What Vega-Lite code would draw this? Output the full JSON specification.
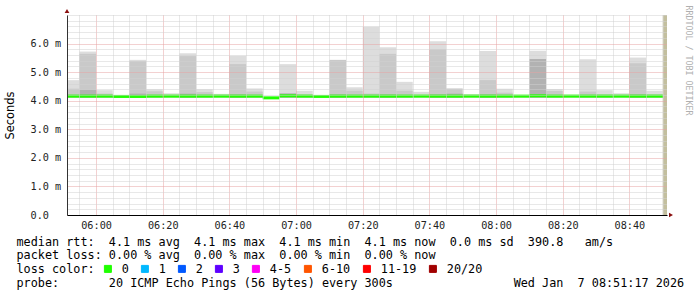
{
  "$schema": "https://vega.github.io/schema/vega-lite/v6.json",
  "width": 600,
  "height": 200,
  "autosize": {"type": "none"},
  "padding": {"left": 67, "top": 15, "right": 30, "bottom": 82},
  "background": "#ffffff",
  "config": {"view": {"stroke": null}, "font": "DejaVu Sans Mono"},
  "datasets": {
    "smoke": [
      {"t0": "2026-01-07T05:50:00Z", "t1": "2026-01-07T05:55:00Z", "band": "light", "lo": 4.1, "hi": 4.72},
      {"t0": "2026-01-07T05:55:00Z", "t1": "2026-01-07T06:00:00Z", "band": "light", "lo": 4.1, "hi": 5.72},
      {"t0": "2026-01-07T06:00:00Z", "t1": "2026-01-07T06:05:00Z", "band": "light", "lo": 4.1, "hi": 4.37},
      {"t0": "2026-01-07T06:10:00Z", "t1": "2026-01-07T06:15:00Z", "band": "light", "lo": 4.1, "hi": 5.43},
      {"t0": "2026-01-07T06:15:00Z", "t1": "2026-01-07T06:20:00Z", "band": "light", "lo": 4.1, "hi": 4.40},
      {"t0": "2026-01-07T06:20:00Z", "t1": "2026-01-07T06:25:00Z", "band": "light", "lo": 4.1, "hi": 4.26},
      {"t0": "2026-01-07T06:25:00Z", "t1": "2026-01-07T06:30:00Z", "band": "light", "lo": 4.1, "hi": 5.66},
      {"t0": "2026-01-07T06:30:00Z", "t1": "2026-01-07T06:35:00Z", "band": "light", "lo": 4.1, "hi": 4.40},
      {"t0": "2026-01-07T06:35:00Z", "t1": "2026-01-07T06:40:00Z", "band": "light", "lo": 4.1, "hi": 4.24},
      {"t0": "2026-01-07T06:40:00Z", "t1": "2026-01-07T06:45:00Z", "band": "light", "lo": 4.1, "hi": 5.57},
      {"t0": "2026-01-07T06:45:00Z", "t1": "2026-01-07T06:50:00Z", "band": "light", "lo": 4.1, "hi": 4.43},
      {"t0": "2026-01-07T06:55:00Z", "t1": "2026-01-07T07:00:00Z", "band": "light", "lo": 4.1, "hi": 5.28},
      {"t0": "2026-01-07T07:00:00Z", "t1": "2026-01-07T07:05:00Z", "band": "light", "lo": 4.1, "hi": 4.35},
      {"t0": "2026-01-07T07:15:00Z", "t1": "2026-01-07T07:20:00Z", "band": "light", "lo": 4.1, "hi": 4.47},
      {"t0": "2026-01-07T07:20:00Z", "t1": "2026-01-07T07:25:00Z", "band": "light", "lo": 4.1, "hi": 6.59},
      {"t0": "2026-01-07T07:25:00Z", "t1": "2026-01-07T07:30:00Z", "band": "light", "lo": 4.1, "hi": 5.87},
      {"t0": "2026-01-07T07:30:00Z", "t1": "2026-01-07T07:35:00Z", "band": "light", "lo": 4.1, "hi": 4.66},
      {"t0": "2026-01-07T07:35:00Z", "t1": "2026-01-07T07:40:00Z", "band": "light", "lo": 4.1, "hi": 4.31},
      {"t0": "2026-01-07T07:40:00Z", "t1": "2026-01-07T07:45:00Z", "band": "light", "lo": 4.1, "hi": 6.08},
      {"t0": "2026-01-07T07:50:00Z", "t1": "2026-01-07T07:55:00Z", "band": "light", "lo": 4.1, "hi": 4.23},
      {"t0": "2026-01-07T07:55:00Z", "t1": "2026-01-07T08:00:00Z", "band": "light", "lo": 4.1, "hi": 5.74},
      {"t0": "2026-01-07T08:00:00Z", "t1": "2026-01-07T08:05:00Z", "band": "light", "lo": 4.1, "hi": 4.42},
      {"t0": "2026-01-07T08:05:00Z", "t1": "2026-01-07T08:10:00Z", "band": "light", "lo": 4.1, "hi": 4.18},
      {"t0": "2026-01-07T08:10:00Z", "t1": "2026-01-07T08:15:00Z", "band": "light", "lo": 4.1, "hi": 5.75},
      {"t0": "2026-01-07T08:15:00Z", "t1": "2026-01-07T08:20:00Z", "band": "light", "lo": 4.1, "hi": 4.41},
      {"t0": "2026-01-07T08:20:00Z", "t1": "2026-01-07T08:25:00Z", "band": "light", "lo": 4.1, "hi": 4.21},
      {"t0": "2026-01-07T08:25:00Z", "t1": "2026-01-07T08:30:00Z", "band": "light", "lo": 4.1, "hi": 5.45},
      {"t0": "2026-01-07T08:30:00Z", "t1": "2026-01-07T08:35:00Z", "band": "light", "lo": 4.1, "hi": 4.37},
      {"t0": "2026-01-07T08:35:00Z", "t1": "2026-01-07T08:40:00Z", "band": "light", "lo": 4.1, "hi": 4.26},
      {"t0": "2026-01-07T08:40:00Z", "t1": "2026-01-07T08:45:00Z", "band": "light", "lo": 4.1, "hi": 5.51},
      {"t0": "2026-01-07T08:45:00Z", "t1": "2026-01-07T08:50:00Z", "band": "light", "lo": 4.1, "hi": 4.35},
      {"t0": "2026-01-07T05:50:00Z", "t1": "2026-01-07T05:55:00Z", "band": "medium", "lo": 4.1, "hi": 4.42},
      {"t0": "2026-01-07T05:55:00Z", "t1": "2026-01-07T06:00:00Z", "band": "medium", "lo": 4.1, "hi": 5.64},
      {"t0": "2026-01-07T06:00:00Z", "t1": "2026-01-07T06:05:00Z", "band": "medium", "lo": 4.1, "hi": 4.25},
      {"t0": "2026-01-07T06:05:00Z", "t1": "2026-01-07T06:10:00Z", "band": "medium", "lo": 4.1, "hi": 4.18},
      {"t0": "2026-01-07T06:10:00Z", "t1": "2026-01-07T06:15:00Z", "band": "medium", "lo": 4.1, "hi": 5.38},
      {"t0": "2026-01-07T06:15:00Z", "t1": "2026-01-07T06:20:00Z", "band": "medium", "lo": 4.1, "hi": 4.33},
      {"t0": "2026-01-07T06:25:00Z", "t1": "2026-01-07T06:30:00Z", "band": "medium", "lo": 4.1, "hi": 5.56},
      {"t0": "2026-01-07T06:30:00Z", "t1": "2026-01-07T06:35:00Z", "band": "medium", "lo": 4.1, "hi": 4.30},
      {"t0": "2026-01-07T06:40:00Z", "t1": "2026-01-07T06:45:00Z", "band": "medium", "lo": 4.1, "hi": 5.28},
      {"t0": "2026-01-07T06:45:00Z", "t1": "2026-01-07T06:50:00Z", "band": "medium", "lo": 4.1, "hi": 4.32},
      {"t0": "2026-01-07T07:00:00Z", "t1": "2026-01-07T07:05:00Z", "band": "medium", "lo": 4.1, "hi": 4.22},
      {"t0": "2026-01-07T07:10:00Z", "t1": "2026-01-07T07:15:00Z", "band": "medium", "lo": 4.1, "hi": 5.43},
      {"t0": "2026-01-07T07:15:00Z", "t1": "2026-01-07T07:20:00Z", "band": "medium", "lo": 4.1, "hi": 4.35},
      {"t0": "2026-01-07T07:20:00Z", "t1": "2026-01-07T07:25:00Z", "band": "medium", "lo": 4.1, "hi": 4.25},
      {"t0": "2026-01-07T07:25:00Z", "t1": "2026-01-07T07:30:00Z", "band": "medium", "lo": 4.1, "hi": 5.64},
      {"t0": "2026-01-07T07:30:00Z", "t1": "2026-01-07T07:35:00Z", "band": "medium", "lo": 4.1, "hi": 4.35},
      {"t0": "2026-01-07T07:40:00Z", "t1": "2026-01-07T07:45:00Z", "band": "medium", "lo": 4.1, "hi": 5.80},
      {"t0": "2026-01-07T07:45:00Z", "t1": "2026-01-07T07:50:00Z", "band": "medium", "lo": 4.1, "hi": 4.43},
      {"t0": "2026-01-07T07:55:00Z", "t1": "2026-01-07T08:00:00Z", "band": "medium", "lo": 4.1, "hi": 4.72},
      {"t0": "2026-01-07T08:00:00Z", "t1": "2026-01-07T08:05:00Z", "band": "medium", "lo": 4.1, "hi": 4.28},
      {"t0": "2026-01-07T08:15:00Z", "t1": "2026-01-07T08:20:00Z", "band": "medium", "lo": 4.1, "hi": 4.34},
      {"t0": "2026-01-07T08:25:00Z", "t1": "2026-01-07T08:30:00Z", "band": "medium", "lo": 4.1, "hi": 4.32},
      {"t0": "2026-01-07T08:30:00Z", "t1": "2026-01-07T08:35:00Z", "band": "medium", "lo": 4.1, "hi": 4.22},
      {"t0": "2026-01-07T08:40:00Z", "t1": "2026-01-07T08:45:00Z", "band": "medium", "lo": 4.1, "hi": 5.31},
      {"t0": "2026-01-07T08:45:00Z", "t1": "2026-01-07T08:50:00Z", "band": "medium", "lo": 4.1, "hi": 4.22},
      {"t0": "2026-01-07T05:55:00Z", "t1": "2026-01-07T06:00:00Z", "band": "dark", "lo": 4.1, "hi": 4.38},
      {"t0": "2026-01-07T06:10:00Z", "t1": "2026-01-07T06:15:00Z", "band": "dark", "lo": 4.1, "hi": 4.25},
      {"t0": "2026-01-07T06:25:00Z", "t1": "2026-01-07T06:30:00Z", "band": "dark", "lo": 4.1, "hi": 4.25},
      {"t0": "2026-01-07T06:40:00Z", "t1": "2026-01-07T06:45:00Z", "band": "dark", "lo": 4.1, "hi": 4.22},
      {"t0": "2026-01-07T06:55:00Z", "t1": "2026-01-07T07:00:00Z", "band": "dark", "lo": 4.1, "hi": 4.26},
      {"t0": "2026-01-07T07:10:00Z", "t1": "2026-01-07T07:15:00Z", "band": "dark", "lo": 4.1, "hi": 4.22},
      {"t0": "2026-01-07T07:25:00Z", "t1": "2026-01-07T07:30:00Z", "band": "dark", "lo": 4.1, "hi": 4.22},
      {"t0": "2026-01-07T07:40:00Z", "t1": "2026-01-07T07:45:00Z", "band": "dark", "lo": 4.1, "hi": 4.22},
      {"t0": "2026-01-07T07:45:00Z", "t1": "2026-01-07T07:50:00Z", "band": "dark", "lo": 4.1, "hi": 4.25},
      {"t0": "2026-01-07T07:55:00Z", "t1": "2026-01-07T08:00:00Z", "band": "dark", "lo": 4.1, "hi": 4.22},
      {"t0": "2026-01-07T08:10:00Z", "t1": "2026-01-07T08:15:00Z", "band": "dark", "lo": 4.1, "hi": 5.46},
      {"t0": "2026-01-07T08:40:00Z", "t1": "2026-01-07T08:45:00Z", "band": "dark", "lo": 4.1, "hi": 4.22}
    ],
    "medianData": [
      {"t0": "2026-01-07T05:50:00Z", "t1": "2026-01-07T05:55:00Z", "median": 4.16, "loss": "0"},
      {"t0": "2026-01-07T05:55:00Z", "t1": "2026-01-07T06:00:00Z", "median": 4.16, "loss": "0"},
      {"t0": "2026-01-07T06:00:00Z", "t1": "2026-01-07T06:05:00Z", "median": 4.16, "loss": "0"},
      {"t0": "2026-01-07T06:05:00Z", "t1": "2026-01-07T06:10:00Z", "median": 4.15, "loss": "0"},
      {"t0": "2026-01-07T06:10:00Z", "t1": "2026-01-07T06:15:00Z", "median": 4.15, "loss": "0"},
      {"t0": "2026-01-07T06:15:00Z", "t1": "2026-01-07T06:20:00Z", "median": 4.16, "loss": "0"},
      {"t0": "2026-01-07T06:20:00Z", "t1": "2026-01-07T06:25:00Z", "median": 4.16, "loss": "0"},
      {"t0": "2026-01-07T06:25:00Z", "t1": "2026-01-07T06:30:00Z", "median": 4.16, "loss": "0"},
      {"t0": "2026-01-07T06:30:00Z", "t1": "2026-01-07T06:35:00Z", "median": 4.16, "loss": "0"},
      {"t0": "2026-01-07T06:35:00Z", "t1": "2026-01-07T06:40:00Z", "median": 4.16, "loss": "0"},
      {"t0": "2026-01-07T06:40:00Z", "t1": "2026-01-07T06:45:00Z", "median": 4.16, "loss": "0"},
      {"t0": "2026-01-07T06:45:00Z", "t1": "2026-01-07T06:50:00Z", "median": 4.16, "loss": "0"},
      {"t0": "2026-01-07T06:50:00Z", "t1": "2026-01-07T06:55:00Z", "median": 4.10, "loss": "0"},
      {"t0": "2026-01-07T06:55:00Z", "t1": "2026-01-07T07:00:00Z", "median": 4.17, "loss": "0"},
      {"t0": "2026-01-07T07:00:00Z", "t1": "2026-01-07T07:05:00Z", "median": 4.16, "loss": "0"},
      {"t0": "2026-01-07T07:05:00Z", "t1": "2026-01-07T07:10:00Z", "median": 4.15, "loss": "0"},
      {"t0": "2026-01-07T07:10:00Z", "t1": "2026-01-07T07:15:00Z", "median": 4.16, "loss": "0"},
      {"t0": "2026-01-07T07:15:00Z", "t1": "2026-01-07T07:20:00Z", "median": 4.16, "loss": "0"},
      {"t0": "2026-01-07T07:20:00Z", "t1": "2026-01-07T07:25:00Z", "median": 4.16, "loss": "0"},
      {"t0": "2026-01-07T07:25:00Z", "t1": "2026-01-07T07:30:00Z", "median": 4.16, "loss": "0"},
      {"t0": "2026-01-07T07:30:00Z", "t1": "2026-01-07T07:35:00Z", "median": 4.16, "loss": "0"},
      {"t0": "2026-01-07T07:35:00Z", "t1": "2026-01-07T07:40:00Z", "median": 4.16, "loss": "0"},
      {"t0": "2026-01-07T07:40:00Z", "t1": "2026-01-07T07:45:00Z", "median": 4.16, "loss": "0"},
      {"t0": "2026-01-07T07:45:00Z", "t1": "2026-01-07T07:50:00Z", "median": 4.16, "loss": "0"},
      {"t0": "2026-01-07T07:50:00Z", "t1": "2026-01-07T07:55:00Z", "median": 4.16, "loss": "0"},
      {"t0": "2026-01-07T07:55:00Z", "t1": "2026-01-07T08:00:00Z", "median": 4.16, "loss": "0"},
      {"t0": "2026-01-07T08:00:00Z", "t1": "2026-01-07T08:05:00Z", "median": 4.16, "loss": "0"},
      {"t0": "2026-01-07T08:05:00Z", "t1": "2026-01-07T08:10:00Z", "median": 4.16, "loss": "0"},
      {"t0": "2026-01-07T08:10:00Z", "t1": "2026-01-07T08:15:00Z", "median": 4.17, "loss": "0"},
      {"t0": "2026-01-07T08:15:00Z", "t1": "2026-01-07T08:20:00Z", "median": 4.16, "loss": "0"},
      {"t0": "2026-01-07T08:20:00Z", "t1": "2026-01-07T08:25:00Z", "median": 4.16, "loss": "0"},
      {"t0": "2026-01-07T08:25:00Z", "t1": "2026-01-07T08:30:00Z", "median": 4.16, "loss": "0"},
      {"t0": "2026-01-07T08:30:00Z", "t1": "2026-01-07T08:35:00Z", "median": 4.16, "loss": "0"},
      {"t0": "2026-01-07T08:35:00Z", "t1": "2026-01-07T08:40:00Z", "median": 4.16, "loss": "0"},
      {"t0": "2026-01-07T08:40:00Z", "t1": "2026-01-07T08:45:00Z", "median": 4.16, "loss": "0"},
      {"t0": "2026-01-07T08:45:00Z", "t1": "2026-01-07T08:50:00Z", "median": 4.16, "loss": "0"}
    ],
    "unknownData": [
      {"t0": "2026-01-07T08:50:00Z", "t1": "2026-01-07T08:51:17Z"}
    ],
    "arrowData": [
      {"t": "2026-01-07T05:51:17Z", "v": 7.14, "dir": "up"},
      {"t": "2026-01-07T08:52:29Z", "v": 0, "dir": "right"}
    ]
  },
  "resolve": {"axis": {"x": "independent", "y": "independent"}},
  "layer": [
    {
      "data": {"name": "smoke"},
      "mark": {"type": "rect", "clip": true},
      "encoding": {
        "x": {
          "field": "t0", "type": "temporal",
          "scale": {"type": "utc", "domain": [1767765077000, 1767775877000]},
          "axis": {"orient": "bottom", "values": [1767765300000, 1767765900000, 1767766200000, 1767766500000, 1767767100000, 1767767400000, 1767767700000, 1767768300000, 1767768600000, 1767768900000, 1767769500000, 1767769800000, 1767770100000, 1767770700000, 1767771000000, 1767771300000, 1767771900000, 1767772200000, 1767772500000, 1767773100000, 1767773400000, 1767773700000, 1767774300000, 1767774600000, 1767774900000, 1767775500000, 1767775800000], "grid": true, "gridColor": "#d0d0d0", "gridDash": [1, 1], "labels": false, "ticks": false, "domain": false, "title": null, "zindex": 1}
        },
        "x2": {"field": "t1"},
        "y": {
          "field": "lo", "type": "quantitative",
          "scale": {"domain": [0, 7], "nice": false},
          "axis": {"orient": "left", "values": [0.2, 0.4, 0.6, 0.8, 1.2, 1.4, 1.6, 1.8, 2.2, 2.4, 2.6, 2.8, 3.2, 3.4, 3.6, 3.8, 4.2, 4.4, 4.6, 4.8, 5.2, 5.4, 5.6, 5.8, 6.2, 6.4, 6.6, 6.8, 7.0], "grid": true, "gridColor": "#d0d0d0", "gridDash": [1, 1], "labels": false, "ticks": false, "domain": false, "title": null, "zindex": 1}
        },
        "y2": {"field": "hi"},
        "fill": {"field": "band", "type": "nominal", "scale": {"domain": ["light", "medium", "dark"], "range": ["#dddddd", "#c9c9c9", "#b2b2b2"]}, "legend": null}
      }
    },
    {
      "data": {"name": "unknownData"},
      "mark": {"type": "rect", "color": "#c3bf9e"},
      "encoding": {
        "x": {"field": "t0", "type": "temporal", "axis": null},
        "x2": {"field": "t1"}
      }
    },
    {
      "data": {"name": "medianData"},
      "mark": {"type": "rule", "strokeWidth": 3, "clip": true, "strokeCap": "butt"},
      "encoding": {
        "x": {
          "field": "t0", "type": "temporal",
          "axis": {
            "orient": "bottom", "labelExpr": "utcFormat(datum.value, '%H:%M')",
            "values": [1767765600000, 1767766800000, 1767768000000, 1767769200000, 1767770400000, 1767771600000, 1767772800000, 1767774000000, 1767775200000],
            "grid": true, "gridColor": "#e6a3a3", "gridDash": [1, 1], "ticks": false, "labelPadding": 5,
            "labelFont": "DejaVu Sans Mono", "labelFontSize": 10.2, "labelColor": "#222222", "labelFlush": false, "labelOverlap": false,
            "domainColor": "#000000", "domainWidth": 1, "zindex": 1,
            "title": [
              "median\u00a0rtt:\u00a0\u00a04.1\u00a0ms\u00a0avg\u00a0\u00a04.1\u00a0ms\u00a0max\u00a0\u00a04.1\u00a0ms\u00a0min\u00a0\u00a04.1\u00a0ms\u00a0now\u00a0\u00a00.0\u00a0ms\u00a0sd\u00a0\u00a0390.8\u00a0\u00a0\u00a0am/s",
              "packet\u00a0loss:\u00a00.00\u00a0%\u00a0avg\u00a0\u00a00.00\u00a0%\u00a0max\u00a0\u00a00.00\u00a0%\u00a0min\u00a0\u00a00.00\u00a0%\u00a0now",
              "loss\u00a0color:",
              "probe:\u00a0\u00a0\u00a0\u00a0\u00a0\u00a0\u00a020\u00a0ICMP\u00a0Echo\u00a0Pings\u00a0(56\u00a0Bytes)\u00a0every\u00a0300s\u00a0\u00a0\u00a0\u00a0\u00a0\u00a0\u00a0\u00a0\u00a0\u00a0\u00a0\u00a0\u00a0\u00a0\u00a0\u00a0\u00a0Wed\u00a0Jan\u00a0\u00a07\u00a008:51:17\u00a02026"
            ],
            "titleX": -51, "titleY": 21, "titleAlign": "left", "titleAnchor": "start", "titleBaseline": "top",
            "titleFont": "DejaVu Sans Mono", "titleFontSize": 11.8, "titleFontWeight": "normal", "titleColor": "#000000", "titleLineHeight": 13.9
          }
        },
        "x2": {"field": "t1"},
        "y": {
          "field": "median", "type": "quantitative",
          "axis": {
            "orient": "left", "values": [0, 1, 2, 3, 4, 5, 6],
            "labelExpr": "datum.value == 0 ? '0.0' : format(datum.value, '.1f') + ' m'",
            "grid": true, "gridColor": "#e6a3a3", "gridDash": [1, 1], "ticks": false,
            "labelAlign": "left", "labelPadding": 37, "labelFont": "DejaVu Sans Mono", "labelFontSize": 10.2, "labelColor": "#222222",
            "domainColor": "#333333", "zindex": 1,
            "title": "Seconds", "titleFont": "DejaVu Sans", "titleFontSize": 11.4, "titleFontWeight": "normal", "titleColor": "#000000",
            "titleAngle": -90, "titleX": -56.5, "titleY": 100, "titleAlign": "center", "titleBaseline": "middle"
          }
        },
        "color": {
          "field": "loss", "type": "nominal",
          "scale": {"domain": ["0", "1", "2", "3", "4-5", "6-10", "11-19", "20/20"], "range": ["#20ff00", "#00b8ff", "#0059ff", "#5e00ff", "#ff00f5", "#ff5500", "#ff0000", "#a10000"]},
          "legend": {
            "orient": "none", "legendX": 35, "legendY": 248, "direction": "horizontal", "title": null,
            "gridAlign": "none",
            "symbolType": "square", "symbolSize": 49, "symbolStrokeColor": "#000000", "symbolStrokeWidth": 1,
            "labelFont": "DejaVu Sans Mono", "labelFontSize": 11.8, "labelColor": "#000000", "labelOffset": 8,
            "columnPadding": 10, "padding": 0,
            "encode": {"symbols": {"update": {"fill": {"scale": "color", "field": "value"}, "stroke": {"value": "#000000"}, "strokeWidth": {"value": 1}, "opacity": {"value": 1}}}}
          }
        }
      }
    },
    {
      "data": {"name": "arrowData"},
      "mark": {"type": "point", "filled": true, "size": 22, "opacity": 1, "color": "#8b1010"},
      "encoding": {
        "x": {"field": "t", "type": "temporal", "axis": null},
        "y": {
          "field": "v", "type": "quantitative",
          "axis": {"orient": "right", "domain": false, "labels": false, "ticks": false, "grid": false,
            "title": "RRDTOOL\u00a0/\u00a0TOBI\u00a0OETIKER", "titleAngle": 90, "titleX": 20.7, "titleY": -10,
            "titleAlign": "left", "titleBaseline": "middle", "titleFont": "DejaVu Sans Mono", "titleFontSize": 8.3,
            "titleFontWeight": "normal", "titleColor": "#b0b0b0"}
        },
        "shape": {"field": "dir", "type": "nominal", "scale": {"domain": ["up", "right"], "range": ["triangle-up", "triangle-right"]}, "legend": null}
      }
    }
  ]
}
